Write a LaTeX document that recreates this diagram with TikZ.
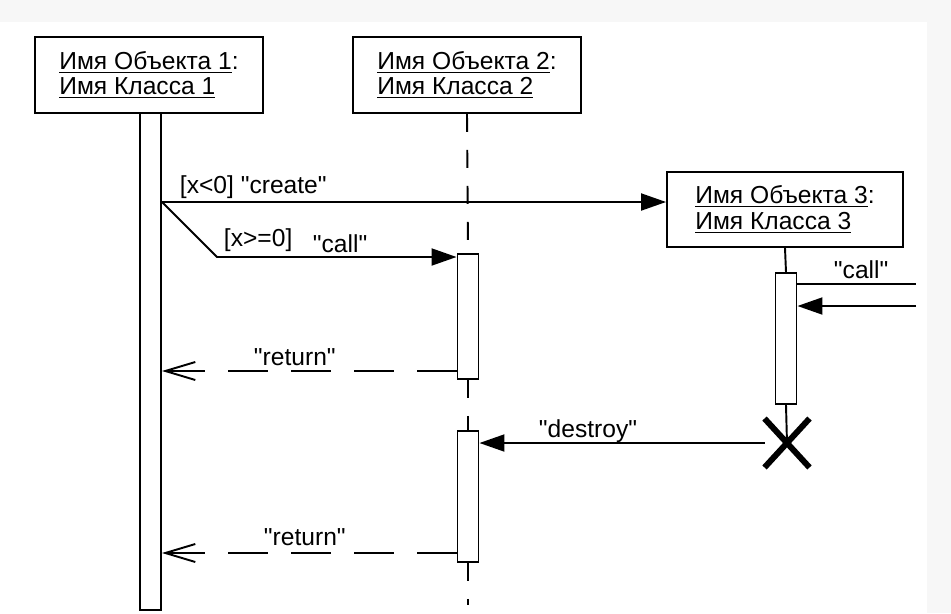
\documentclass[tikz,border=0pt]{standalone}
\usepackage{fontspec}
\setmainfont{Liberation Sans}
\usetikzlibrary{arrows.meta,positioning,shapes.misc}
\newcommand\qt[1]{\textquotedbl#1\textquotedbl}

\begin{document}
\begin{tikzpicture}[x=0.02cm, y=-0.02cm, line width=1.1pt,
    >={Triangle[length=0.5cm,width=0.34cm]},
    obj/.style={draw, fill=white, align=left, inner sep=0pt,
      minimum width=4.56cm, minimum height=1.52cm,
      font=\fontsize{14}{14.5}\selectfont},
    bar/.style={draw, fill=white, inner sep=0pt, minimum width=0.42cm},
    life/.style={dash pattern=on 0.36cm off 0.36cm},
    ret/.style={dash pattern=on 0.8cm off 0.46cm,
      -{Straight Barb[length=0.6cm,width=0.36cm]}},
    lbl/.style={anchor=base west, inner sep=0pt,
      font=\fontsize{14}{14.5}\selectfont}]

  % 背景（スキャンの余白）
  \useasboundingbox (0,0) rectangle (951,613);
  \fill[gray!6] (0,0) rectangle (951,613);
  \fill[white] (0,22) rectangle (927,613);

  % オブジェクトの箱
  \node[obj] (obj1) at (149,75) {\underline{Имя Объекта 1}:\\\underline{Имя Класса 1}};
  \node[obj] (obj2) at (467,75) {\underline{Имя Объекта 2}:\\\underline{Имя Класса 2}};
  \node[obj, minimum width=4.72cm, minimum height=1.5cm] (obj3) at (785,209.5)
    {\underline{Имя Объекта 3}:\\\underline{Имя Класса 3}};

  % 活性化区間
  \node[bar, minimum height=9.94cm] (act1) at (150.5,361.5) {};
  \node[bar, minimum height=2.5cm] (act2a) at (468,316.5) {};
  \node[bar, minimum height=2.62cm] (act2b) at (468,496.5) {};
  \node[bar, minimum height=2.62cm] (act3) at (786,338.5) {};

  % ライフライン
  \coordinate (end2) at (468,605);
  \draw[life] (obj2.south) -- (act2a.north);
  \draw[life] (act2a.south) -- (act2b.north);
  \draw[life] (act2b.south) -- (end2);
  \draw (obj3.south) -- (act3.north);
  \node[draw, cross out, line width=3.4pt, inner sep=0pt,
    minimum width=0.78cm, minimum height=0.86cm] (kill) at (787,443) {};
  \draw (act3.south) -- (kill.center);

  % メッセージ
  \coordinate (fork) at (act1.east |- 0,202);
  \coordinate (bend) at (217,257);
  \draw[->] (fork) -- (obj3.west |- fork);
  \draw[->] (fork) -- (bend) -- (act2a.west |- bend);
  \foreach \y/\a in {371/act2a, 553/act2b} {
    \draw[ret] (\a.west |- 0,\y) -- (act1.east |- 0,\y);
  }
  \draw[->] (kill.west) -- (act2b.east |- kill.west);

  % 右側の呼び出し
  \coordinate (callout) at (916,284);
  \coordinate (callin) at (916,306);
  \draw (act3.east |- callout) -- (callout);
  \draw[->] (callin) -- (act3.east |- callin);

  % ラベル
  \node[lbl] (lcreate) at (179,193) {[x<0] \qt{create}};
  \node[lbl] (lguard) at (223,246) {[x>=0]};
  \node[lbl] (lcall) at (312,252) {\qt{call}};
  \node[lbl] (lret1) at (253,365) {\qt{return}};
  \node[lbl] (lret2) at (263,545) {\qt{return}};
  \node[lbl] (ldestroy) at (538,437) {\qt{destroy}};
  \node[lbl] (lcall3) at (833,278) {\qt{call}};

\end{tikzpicture}
\end{document}
